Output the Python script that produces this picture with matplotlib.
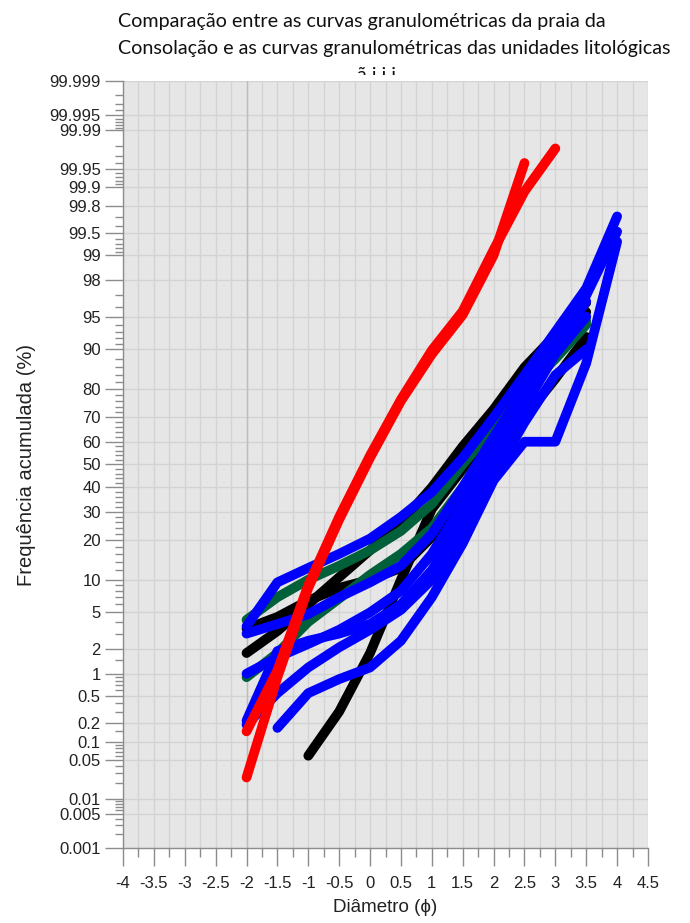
import math
import numpy as np
import matplotlib
matplotlib.use("Agg")
import matplotlib.pyplot as plt
from matplotlib.ticker import FixedLocator, FixedFormatter, NullFormatter
from matplotlib.transforms import Bbox, TransformedBbox

plt.rcParams["axes.unicode_minus"] = False

# ---------------- data ----------------
# grain size classes (phi) and cumulative frequency (%) of each curve
phi_red_a = [-2, -1.5, -1, -0.5, 0, 0.5, 1, 1.5, 2, 2.5]
red_a = [0.025, 0.9, 8.5, 27, 53, 76, 89, 95.2, 99.0, 99.96]

phi_red_b = [-2, -1.5, -1, -0.5, 0, 0.5, 1, 1.5, 2, 2.5, 3]
red_b = [0.15, 1.1, 9, 28, 54, 76.5, 89.8, 95.6, 99.15, 99.88, 99.978]

phi_to35 = [-2, -1.5, -1, -0.5, 0, 0.5, 1, 1.5, 2, 2.5, 3, 3.5]
black_a = [1.8, 3.2, 6.0, 10.5, 17, 26, 40, 58, 73, 86, 92.5, 96.4]
black_b = [3.4, 4.5, 6.5, 8.5, 10, 12.5, 21, 35, 52, 70, 83, 92.2]
phi_black_c = [-1, -0.5, 0, 0.5, 1, 1.5, 2, 2.5, 3, 3.5]
black_c = [0.06, 0.3, 1.8, 10, 31, 48, 68, 84, 92, 95.5]

green_a = [4.2, 7, 10, 13, 17, 23, 33, 50, 66, 80, 88, 94]
green_b = [0.9, 1.8, 4, 6.8, 11, 16, 24, 40, 60, 77, 88.5, 94.5]

phi_to4 = [-2, -1.5, -1, -0.5, 0, 0.5, 1, 1.5, 2, 2.5, 3, 3.5, 4]
blue_a = [3.6, 9.5, 12.5, 16, 20.5, 28, 38, 53, 70, 84, 93, 97.5, 99.71]
blue_b = [3.0, 3.8, 4.8, 7, 9.5, 13, 22, 40, 62, 80, 91, 96.5]
blue_c = [1.0, 1.6, 2.3, 3.3, 5.0, 8, 16, 33, 57, 78, 91, 97, 99.52]
blue_d = [0.22, 1.9, 2.5, 3.0, 3.8, 6, 12, 27, 50, 74, 89, 95]
blue_e = [0.19, 0.55, 1.2, 2.1, 3.3, 5.3, 10, 22, 45, 68, 84, 90]
phi_blue_f = [-1.5, -1, -0.5, 0, 0.5, 1, 1.5, 2, 2.5, 3, 3.5, 4]
blue_f = [0.17, 0.55, 0.85, 1.2, 2.5, 7, 19, 43, 60, 60, 87, 99.34]

# probability axis ticks
y_major = [0.001, 0.005, 0.01, 0.05, 0.1, 0.2, 0.5, 1, 2, 5, 10, 20, 30, 40, 50,
           60, 70, 80, 90, 95, 98, 99, 99.5, 99.8, 99.9, 99.95, 99.99, 99.995, 99.999]
y_labels = ["0.001", "0.005", "0.01", "0.05", "0.1", "0.2", "0.5", "1", "2", "5", "10",
            "20", "30", "40", "50", "60", "70", "80", "90", "95", "98", "99", "99.5",
            "99.8", "99.9", "99.95", "99.99", "99.995", "99.999"]
y_minor = [0.002, 0.003, 0.004, 0.006, 0.007, 0.008, 0.009, 0.02, 0.03, 0.04,
           0.06, 0.07, 0.08, 0.09, 0.15, 0.3, 0.4, 0.6, 0.7, 0.8, 0.9, 1.5, 3, 4,
           6, 7, 8, 9, 12, 14, 16, 18, 22, 24, 26, 28, 32, 34, 36, 38, 42, 44, 46, 48,
           52, 54, 56, 58, 62, 64, 66, 68, 72, 74, 76, 78, 82, 84, 86, 88,
           91, 92, 93, 94, 96, 97, 99.1, 99.2, 99.3, 99.4, 99.6, 99.7,
           99.91, 99.92, 99.93, 99.94, 99.96, 99.97, 99.98,
           99.991, 99.992, 99.993, 99.994, 99.996, 99.997, 99.998]

x_major = [-4, -3.5, -3, -2.5, -2, -1.5, -1, -0.5, 0, 0.5, 1, 1.5, 2, 2.5, 3, 3.5, 4, 4.5]
x_labels = ["-4", "-3.5", "-3", "-2.5", "-2", "-1.5", "-1", "-0.5", "0", "0.5", "1",
            "1.5", "2", "2.5", "3", "3.5", "4", "4.5"]
x_minor = [-3.75, -3.25, -2.75, -2.25, -1.75, -1.25, -0.75, -0.25, 0.25, 0.75,
           1.25, 1.75, 2.25, 2.75, 3.25, 3.75, 4.25]

title_lines = ["Comparação entre as curvas granulométricas da praia da",
               "Consolação e as curvas granulométricas das unidades litológicas"]

# ---------------- probability (probit) scale ----------------
_A = [-3.969683028665376e+01, 2.209460984245205e+02, -2.759285104469687e+02,
      1.383577518672690e+02, -3.066479806614716e+01, 2.506628277459239e+00]
_B = [-5.447609879822406e+01, 1.615858368580409e+02, -1.556989798598866e+02,
      6.680131188771972e+01, -1.328068155288572e+01]
_C = [-7.784894002430293e-03, -3.223964580411365e-01, -2.400758277161838e+00,
      -2.549732539343734e+00, 4.374664141464968e+00, 2.938163982698783e+00]
_D = [7.784695709041462e-03, 3.224671290700398e-01, 2.445134137142996e+00,
      3.754408661907416e+00]


def _ppf(p):
    p = np.clip(np.asarray(p, dtype=float), 1e-12, 1 - 1e-12)
    out = np.empty_like(p)
    plow = 0.02425
    lo = p < plow
    hi = p > 1 - plow
    mid = ~(lo | hi)
    q = np.sqrt(-2 * np.log(p[lo]))
    out[lo] = (((((_C[0]*q+_C[1])*q+_C[2])*q+_C[3])*q+_C[4])*q+_C[5]) / \
              ((((_D[0]*q+_D[1])*q+_D[2])*q+_D[3])*q+1)
    q = np.sqrt(-2 * np.log(1 - p[hi]))
    out[hi] = -(((((_C[0]*q+_C[1])*q+_C[2])*q+_C[3])*q+_C[4])*q+_C[5]) / \
               ((((_D[0]*q+_D[1])*q+_D[2])*q+_D[3])*q+1)
    q = p[mid] - 0.5
    r = q * q
    out[mid] = (((((_A[0]*r+_A[1])*r+_A[2])*r+_A[3])*r+_A[4])*r+_A[5])*q / \
               (((((_B[0]*r+_B[1])*r+_B[2])*r+_B[3])*r+_B[4])*r+1)
    return out


_erf = np.vectorize(math.erf)


def pct_to_z(v):
    return _ppf(np.asarray(v, dtype=float) / 100.0)


def z_to_pct(z):
    z = np.asarray(z, dtype=float)
    return 50.0 * (1.0 + _erf(z / math.sqrt(2.0)))


# ---------------- figure ----------------
fig = plt.figure(figsize=(6.9, 9.23), dpi=100)
ax = fig.add_axes([123/690, 1 - 848/923, (648 - 123)/690, (848 - 81)/923])
ax.set_yscale("function", functions=(pct_to_z, z_to_pct))
ax.set_ylim(0.001, 99.999)
ax.set_xlim(-4, 4.5)
ax.set_facecolor("#e6e6e6")
ax.set_axisbelow(True)

grid_col = "#d3d3d3"
ax.xaxis.set_major_locator(FixedLocator(x_major))
ax.xaxis.set_major_formatter(FixedFormatter(x_labels))
ax.xaxis.set_minor_locator(FixedLocator(x_minor))
ax.yaxis.set_major_locator(FixedLocator(y_major))
ax.yaxis.set_major_formatter(FixedFormatter(y_labels))
ax.yaxis.set_minor_locator(FixedLocator(y_minor))
ax.yaxis.set_minor_formatter(NullFormatter())
ax.grid(True, which="both", axis="x", color=grid_col, lw=1.0)
ax.grid(True, which="major", axis="y", color=grid_col, lw=1.0)
ax.axvline(-2, color="#bdbdbd", lw=1.0, zorder=0.8)

for s in ("top", "right"):
    ax.spines[s].set_visible(False)
for s in ("left", "bottom"):
    ax.spines[s].set_color("#8c8c8c")
    ax.spines[s].set_linewidth(1.0)

tick_font = ["Liberation Sans", "DejaVu Sans"]
ax.tick_params(axis="y", which="major", length=13, width=1, color="#8c8c8c",
               labelsize=12, pad=3)
ax.tick_params(axis="y", which="minor", length=6, width=1, color="#8c8c8c")
ax.tick_params(axis="x", which="major", length=13, width=1, color="#8c8c8c",
               labelsize=12, pad=7)
ax.tick_params(axis="x", which="minor", length=6.5, width=1, color="#8c8c8c")
for lab in ax.get_xticklabels() + ax.get_yticklabels():
    lab.set_family(tick_font)
    lab.set_color("#222222")

ax.set_xlabel("Diâmetro (ϕ)", fontsize=13.5, family=tick_font, color="#222222", labelpad=6)
ax.set_ylabel("Frequência acumulada (%)", fontsize=14.5, family=tick_font,
              color="#222222", labelpad=10)

# ---------------- curves ----------------
lw = 7.0
kw = dict(lw=lw, solid_capstyle="round", solid_joinstyle="round")
green = "#00603a"
ax.plot(phi_to35, black_a, color="black", **kw)
ax.plot(phi_to35, black_b, color="black", **kw)
ax.plot(phi_black_c, black_c, color="black", **kw)
ax.plot(phi_to35, green_a, color=green, **kw)
ax.plot(phi_to35, green_b, color=green, **kw)
ax.plot(phi_to4, blue_a, color="#0000ff", **kw)
ax.plot(phi_to35, blue_b, color="#0000ff", **kw)
ax.plot(phi_to4, blue_c, color="#0000ff", **kw)
ax.plot(phi_to35, blue_d, color="#0000ff", **kw)
ax.plot(phi_to35, blue_e, color="#0000ff", **kw)
ax.plot(phi_blue_f, blue_f, color="#0000ff", **kw)
ax.plot(phi_red_a, red_a, color="#ff0000", **kw)
ax.plot(phi_red_b, red_b, color="#ff0000", **kw)

# ---------------- title ----------------
title_font = ["Lato", "DejaVu Sans"]
title_size = 14.2
fig.text(118/690, 1 - 27/923, title_lines[0], fontsize=title_size, family=title_font,
         color="#111111", va="baseline", ha="left")
fig.text(118/690, 1 - 54/923, title_lines[1], fontsize=title_size, family=title_font,
         color="#111111", va="baseline", ha="left")
# third title line, cut off at the top of the plotting area
t3 = fig.text(357/690, 1 - 81/923, "ã i i i", fontsize=title_size, family=title_font,
              color="#111111", va="baseline", ha="left")
t3.set_clip_box(TransformedBbox(Bbox([[0, 1 - 75/923], [1, 1]]), fig.transFigure))
t3.set_clip_on(True)

fig.savefig("out.png", dpi=100)
